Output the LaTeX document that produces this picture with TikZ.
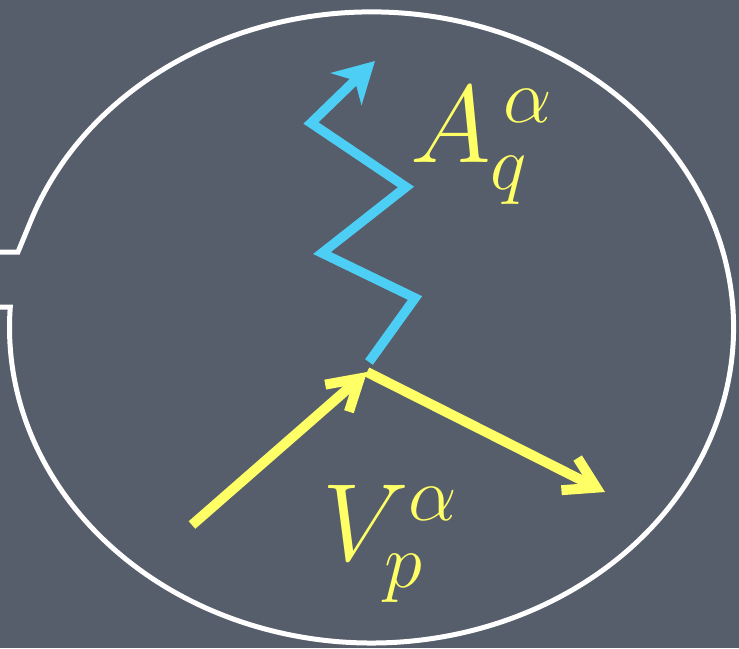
\documentclass[tikz,border=0pt]{standalone}
\usepackage{fix-cm}
\usepackage{xcolor}
\usepackage{tikz}
\usetikzlibrary{arrows.meta}

\definecolor{slate}{RGB}{86,93,107}
\definecolor{gluon}{RGB}{77,207,245}
\definecolor{chalk}{RGB}{255,255,102}

\begin{document}
\begin{tikzpicture}[
  x=1pt, y=-1pt,
  bubble/.style={line width=5pt, white},
  photon/.style={line width=9.5pt, gluon, -{Stealth[length=40pt, width=44pt, inset=12pt]}},
  fermion/.style={line width=10pt, chalk, -{Straight Barb[length=30pt, width=36pt]}},
  lbl/.style={text=chalk, inner sep=0pt, font=\fontsize{110}{112}\selectfont}
]
\fill[slate] (0,0) rectangle (739,648);
\useasboundingbox (0,0) rectangle (739,648);

% speech bubble
\coordinate (tailin) at (0,252);
\coordinate (tailkink) at (18,252);
\coordinate (tailtop) at (32,218);
\coordinate (tailbot) at (0,307);
\draw[bubble] (tailin) -- (tailkink) -- (tailtop)
  arc[start angle=200.3, end angle=543.7, x radius=362, y radius=315.5]
  -- (tailbot);

% vertex and legs
\coordinate (vtx) at (367,372);
\coordinate (pin) at (192,525);
\coordinate (pout) at (605,492);
\coordinate (ph0) at (369,362);
\coordinate (ph1) at (415,298);
\coordinate (ph2) at (322,253);
\coordinate (ph3) at (406,187);
\coordinate (ph4) at (311,123);
\coordinate (ph5) at (375,61);

\draw[fermion] (pin) -- (vtx);
\draw[fermion] (vtx) -- (pout);
\draw[photon] (ph0) -- (ph1) -- (ph2) -- (ph3) -- (ph4) -- (ph5);

\node[lbl, anchor=base west] (alab) at (410,162) {$A_q^{\,\alpha}$};
\node[lbl, anchor=base west] (vlab) at (322,560) {$V_p^\alpha$};
\end{tikzpicture}
\end{document}
